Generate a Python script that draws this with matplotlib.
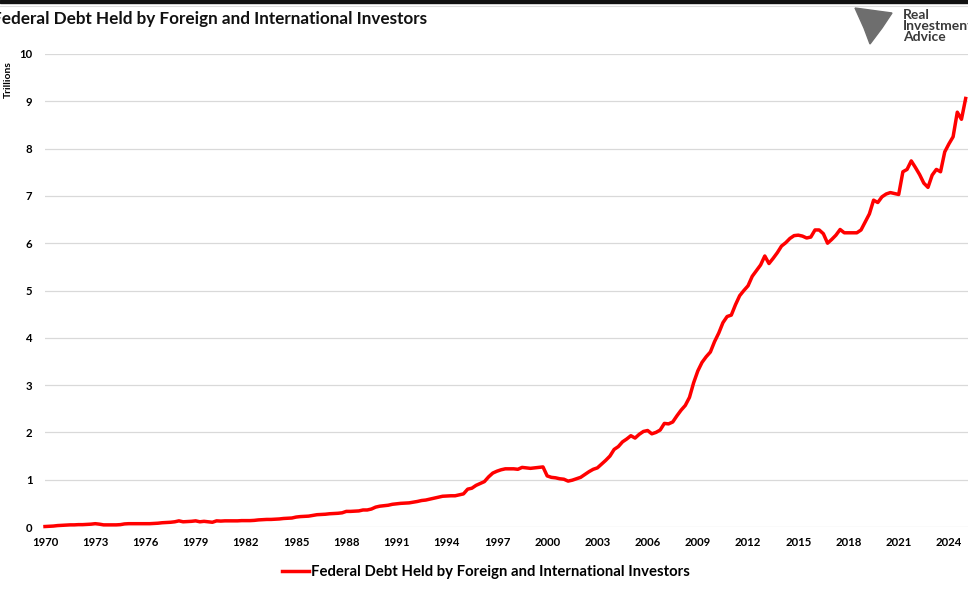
import matplotlib
matplotlib.use("Agg")
import matplotlib.pyplot as plt
import numpy as np

plt.rcParams['font.family'] = ['Lato', 'DejaVu Sans']

# Quarterly values (trillions USD), 1970 Q1 .. 2025 Q1
vals_1970_1994 = [
    0.010, 0.015, 0.020, 0.030,   # 1970
    0.035, 0.040, 0.045, 0.045,   # 1971
    0.050, 0.050, 0.055, 0.060,   # 1972
    0.070, 0.060, 0.045, 0.045,   # 1973
    0.045, 0.045, 0.050, 0.065,   # 1974
    0.070, 0.070, 0.070, 0.070,   # 1975
    0.070, 0.070, 0.075, 0.080,   # 1976
    0.090, 0.095, 0.100, 0.110,   # 1977
    0.130, 0.110, 0.115, 0.120,   # 1978
    0.130, 0.110, 0.120, 0.110,   # 1979
    0.100, 0.130, 0.125, 0.130,   # 1980
    0.130, 0.130, 0.130, 0.135,   # 1981
    0.135, 0.135, 0.140, 0.150,   # 1982
    0.155, 0.160, 0.160, 0.165,   # 1983
    0.170, 0.180, 0.185, 0.190,   # 1984
    0.210, 0.220, 0.225, 0.230,   # 1985
    0.245, 0.260, 0.265, 0.270,   # 1986
    0.280, 0.285, 0.290, 0.300,   # 1987
    0.330, 0.330, 0.335, 0.340,   # 1988
    0.360, 0.360, 0.380, 0.420,   # 1989
    0.440, 0.450, 0.460, 0.480,   # 1990
    0.490, 0.500, 0.505, 0.510,   # 1991
    0.525, 0.540, 0.560, 0.570,   # 1992
    0.590, 0.610, 0.630, 0.650,   # 1993
    0.655, 0.660, 0.660, 0.680,   # 1994
]
vals_1995_2025 = [
    0.70, 0.80, 0.82, 0.88,   # 1995
    0.92, 0.96, 1.06, 1.14,   # 1996
    1.18, 1.21, 1.23, 1.23,   # 1997
    1.23, 1.22, 1.26, 1.25,   # 1998
    1.24, 1.25, 1.26, 1.27,   # 1999
    1.08, 1.05, 1.04, 1.02,   # 2000
    1.01, 0.97, 0.99, 1.02,   # 2001
    1.05, 1.11, 1.17, 1.22,   # 2002
    1.25, 1.33, 1.41, 1.50,   # 2003
    1.64, 1.70, 1.80, 1.86,   # 2004
    1.93, 1.88, 1.96, 2.02,   # 2005
    2.04, 1.97, 2.00, 2.05,   # 2006
    2.19, 2.18, 2.22, 2.35,   # 2007
    2.47, 2.57, 2.74, 3.05,   # 2008
    3.30, 3.48, 3.60, 3.70,   # 2009
    3.92, 4.10, 4.32, 4.45,   # 2010
    4.48, 4.70, 4.89, 5.00,   # 2011
    5.10, 5.30, 5.42, 5.54,   # 2012
    5.73, 5.57, 5.68, 5.80,   # 2013
    5.94, 6.01, 6.10, 6.16,   # 2014
    6.17, 6.15, 6.11, 6.13,   # 2015
    6.28, 6.28, 6.20, 6.00,   # 2016
    6.08, 6.17, 6.29, 6.22,   # 2017
    6.22, 6.22, 6.22, 6.28,   # 2018
    6.45, 6.62, 6.91, 6.86,   # 2019
    6.98, 7.04, 7.07, 7.05,   # 2020
    7.03, 7.51, 7.56, 7.74,   # 2021
    7.60, 7.45, 7.27, 7.18,   # 2022
    7.44, 7.56, 7.51, 7.93,   # 2023
    8.10, 8.25, 8.77, 8.62,   # 2024
    9.06,                     # 2025 Q1
]
values = vals_1970_1994 + vals_1995_2025
dates = 1970 + np.arange(len(values)) * 0.25

x_ticks = list(range(1970, 2025, 3))
y_ticks = list(range(0, 11))

title = "Federal Debt Held by Foreign and International Investors"
series_name = "Federal Debt Held by Foreign and International Investors"

fig = plt.figure(figsize=(9.68, 5.89), dpi=100)
ax = fig.add_axes([45/968, (589-527)/589, 1 - 45/968, (527-54)/589])

ax.plot(dates, values, color='#FF0000', lw=2.5, solid_joinstyle='round',
        label=series_name, clip_on=False, zorder=3)

ax.set_xlim(1970, 2025.14)
ax.set_ylim(0, 10)
ax.set_xticks(x_ticks)
ax.set_xticklabels([str(t) for t in x_ticks])
ax.set_yticks(y_ticks)
ax.grid(axis='y', color='#D9D9D9', lw=0.9)
ax.set_axisbelow(True)
for s in ax.spines.values():
    s.set_visible(False)
ax.tick_params(axis='both', length=0, labelsize=8.2)
ax.tick_params(axis='x', pad=7)
ax.tick_params(axis='y', pad=9)
for lbl in ax.get_xticklabels() + ax.get_yticklabels():
    lbl.set_fontweight('bold')

fig.text(8/968, 1 - 80/589, "Trillions", rotation=90, ha='center', va='center',
         fontsize=7.5, fontweight='bold')

fig.text(-8/968, 1 - 19/589, title, ha='left', va='center',
         fontsize=12.35, fontweight='bold', color='#111111')

# top dark bar
fig.patches.append(plt.Rectangle((0, 1 - 3/589), 1, 3/589, transform=fig.transFigure,
                                 color='#111111', zorder=5))
fig.lines.append(plt.Line2D([0, 1], [1 - 5.5/589, 1 - 5.5/589], transform=fig.transFigure,
                            color='#DDDDDD', lw=0.8))

# logo
fig.text(903/968, 1 - 26/589, "Real\nInvestment\nAdvice", ha='left', va='center',
         fontsize=10, fontweight='bold', color='#3A3A3A', linespacing=0.92)
fig.patches.append(plt.Polygon([(855/968, 1 - 8/589), (892/968, 1 - 13/589),
                                (882/968, 1 - 28/589), (870/968, 1 - 44/589),
                                (864/968, 1 - 28/589)], closed=True,
                               transform=fig.transFigure, color='#6E6E6E'))

leg = fig.legend(loc='center', bbox_to_anchor=(486/968, 1 - 572/589), frameon=False,
                 prop={'weight': 'bold', 'size': 10.7}, handlelength=1.8, handletextpad=0.15)

fig.savefig("out.png", dpi=100)
